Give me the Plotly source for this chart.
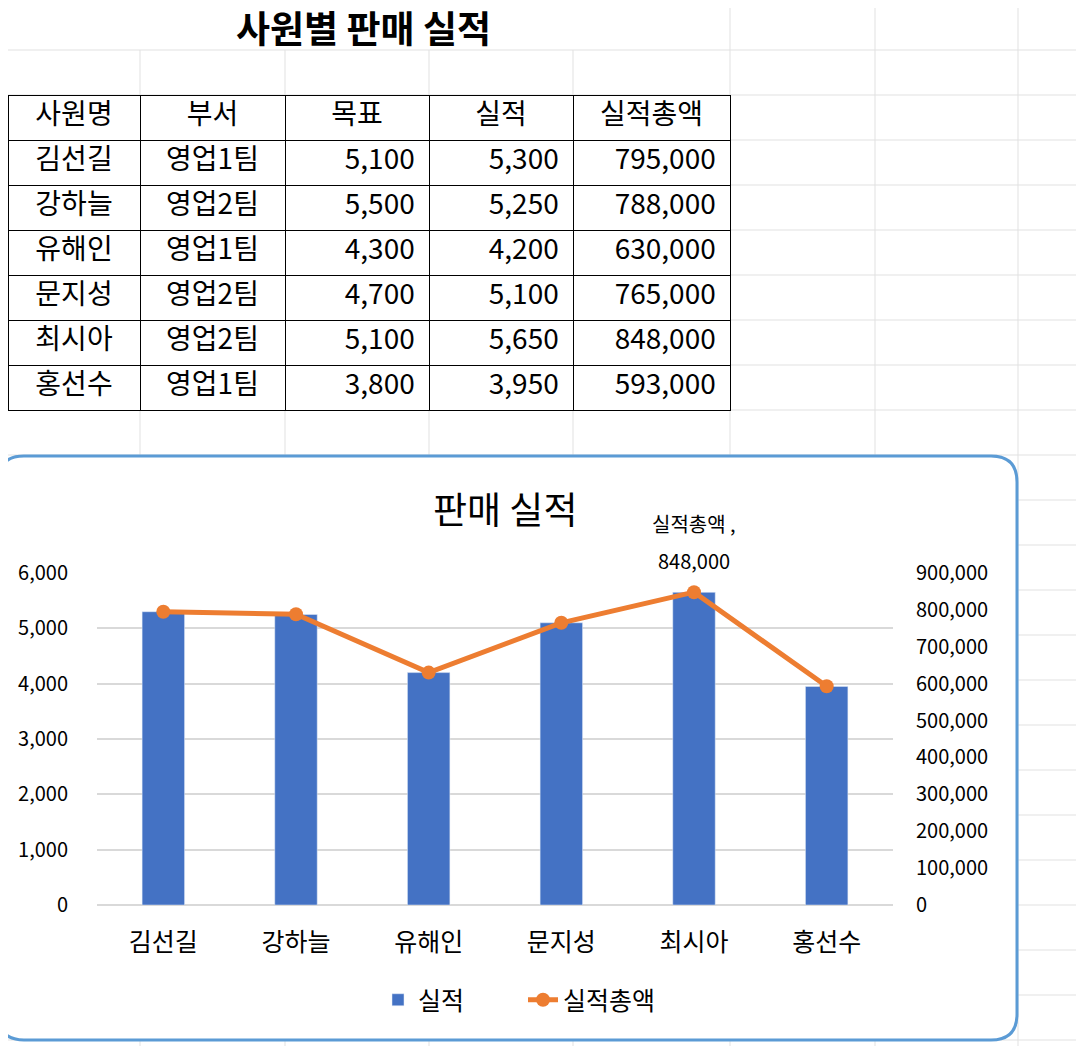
import plotly.graph_objects as go

# --- 데이터 ---
sheet_title = '사원별 판매 실적'
chart_title = '판매 실적'
headers = ['사원명', '부서', '목표', '실적', '실적총액']
names = ['김선길', '강하늘', '유해인', '문지성', '최시아', '홍선수']
depts = ['영업1팀', '영업2팀', '영업1팀', '영업2팀', '영업2팀', '영업1팀']
targets = [5100, 5500, 4300, 4700, 5100, 3800]
actuals = [5300, 5250, 4200, 5100, 5650, 3950]
totals = [795000, 788000, 630000, 765000, 848000, 593000]

bar_name = '실적'
line_name = '실적총액'

FONT = 'Noto Sans CJK KR'
BLUE = '#4472C4'
ORANGE = '#ED7D31'
GRID = '#D9D9D9'
SHEET = '#E1E1E1'

# 페이지 기준 px -> paper 좌표 (body margin 8px 보정)
W, H, OFF = 1068, 1038, 8


def px(x):
    return (x - OFF) / W


def py(y):
    return 1 - (y - OFF) / H


def num(v):
    # 엑셀 숫자 셀처럼 오른쪽 여백 조금
    return f'{v:,}\u00a0'


fig = go.Figure()

# --- 표 ---
fig.add_trace(go.Table(
    domain=dict(x=[0, px(730)], y=[py(412), py(95)]),
    columnwidth=[132, 145, 144, 144, 157],
    header=dict(
        values=headers,
        height=45,
        align='center',
        fill_color='white',
        line=dict(color='black', width=1),
        font=dict(family=FONT, size=28, color='black'),
    ),
    cells=dict(
        values=[names, depts,
                [num(v) for v in targets],
                [num(v) for v in actuals],
                [num(v) for v in totals]],
        height=45,
        align=['center', 'center', 'right', 'right', 'right'],
        fill_color='white',
        line=dict(color='black', width=1),
        font=dict(family=FONT, size=28, color='black'),
    ),
))

# --- 차트 ---
fig.add_trace(go.Bar(
    x=names, y=actuals, name=bar_name,
    marker_color=BLUE, yaxis='y',
))
fig.add_trace(go.Scatter(
    x=names, y=totals, name=line_name, yaxis='y2',
    mode='lines+markers',
    line=dict(color=ORANGE, width=5),
    marker=dict(color=ORANGE, size=14),
))

# 최대값 데이터 레이블
i = totals.index(max(totals))
fig.add_annotation(x=names[i], y=totals[i], xref='x', yref='y2',
                   text=f'{line_name} ,', showarrow=False, yshift=69,
                   font=dict(family=FONT, size=20, color='black'))
fig.add_annotation(x=names[i], y=totals[i], xref='x', yref='y2',
                   text=f'{totals[i]:,}', showarrow=False, yshift=32,
                   font=dict(family=FONT, size=20, color='black'))

# 제목
fig.add_annotation(x=px(363), y=py(27), xref='paper', yref='paper',
                   xanchor='center', yanchor='middle',
                   text=f'<b>{sheet_title}</b>', showarrow=False,
                   font=dict(family=FONT, size=37, color='black'))
fig.add_annotation(x=px(505), y=py(508), xref='paper', yref='paper',
                   xanchor='center', yanchor='middle',
                   text=chart_title, showarrow=False,
                   font=dict(family=FONT, size=37, color='black'))

# --- 엑셀 시트 격자 ---
shapes = []
for k in range(23):
    y = 50 + 45 * k
    shapes.append(dict(type='line', xref='paper', yref='paper',
                       x0=0, x1=1, y0=py(y), y1=py(y),
                       line=dict(color=SHEET, width=1), layer='below'))
for x in [140, 285, 429, 573]:
    shapes.append(dict(type='line', xref='paper', yref='paper',
                       x0=px(x), x1=px(x), y0=py(50), y1=0,
                       line=dict(color=SHEET, width=1), layer='below'))
for x in [730, 875, 1018]:
    shapes.append(dict(type='line', xref='paper', yref='paper',
                       x0=px(x), x1=px(x), y0=1, y1=0,
                       line=dict(color=SHEET, width=1), layer='below'))

# 차트 영역 (둥근 모서리)
x0, x1, y0, y1, r = -2, 1017, 456, 1040, 26
rx, ry = r / W, r / H
L, R, T, B = px(x0), px(x1), py(y0), py(y1)
path = (f'M {L + rx},{T} L {R - rx},{T} Q {R},{T} {R},{T - ry} '
        f'L {R},{B + ry} Q {R},{B} {R - rx},{B} '
        f'L {L + rx},{B} Q {L},{B} {L},{B + ry} '
        f'L {L},{T - ry} Q {L},{T} {L + rx},{T} Z')
shapes.append(dict(type='path', xref='paper', yref='paper', path=path,
                   fillcolor='white', line=dict(color='#5B9BD5', width=3),
                   layer='below'))

fig.update_layout(
    width=W, height=H,
    autosize=False,
    margin=dict(l=0, r=0, t=0, b=0, autoexpand=False),
    paper_bgcolor='white',
    plot_bgcolor='white',
    font=dict(family=FONT, color='black'),
    shapes=shapes,
    bargap=0.68,
    showlegend=True,
    legend=dict(orientation='h', x=px(523), xanchor='center',
                y=py(1000), yanchor='middle',
                entrywidth=100, entrywidthmode='pixels',
                font=dict(family=FONT, size=25, color='black'),
                bgcolor='rgba(0,0,0,0)'),
    xaxis=dict(domain=[px(97), px(893)], showgrid=False, showline=False,
               automargin=False, ticks='', ticklabelstandoff=20,
               tickfont=dict(family=FONT, size=25, color='black')),
    yaxis=dict(domain=[py(905), py(573)], range=[0, 6000], dtick=1000,
               tickformat=',', showgrid=True, gridcolor=GRID, gridwidth=1.5,
               zeroline=True, zerolinecolor=GRID, zerolinewidth=1.5,
               showline=False, automargin=False, ticks='',
               ticklabelstandoff=28,
               tickfont=dict(family=FONT, size=20, color='black')),
    yaxis2=dict(overlaying='y', side='right', range=[0, 900000],
                dtick=100000, tickformat=',', showgrid=False, zeroline=False,
                showline=False, automargin=False, ticks='',
                ticklabelstandoff=22,
                tickfont=dict(family=FONT, size=20, color='black')),
)

fig.write_html("out.html")
